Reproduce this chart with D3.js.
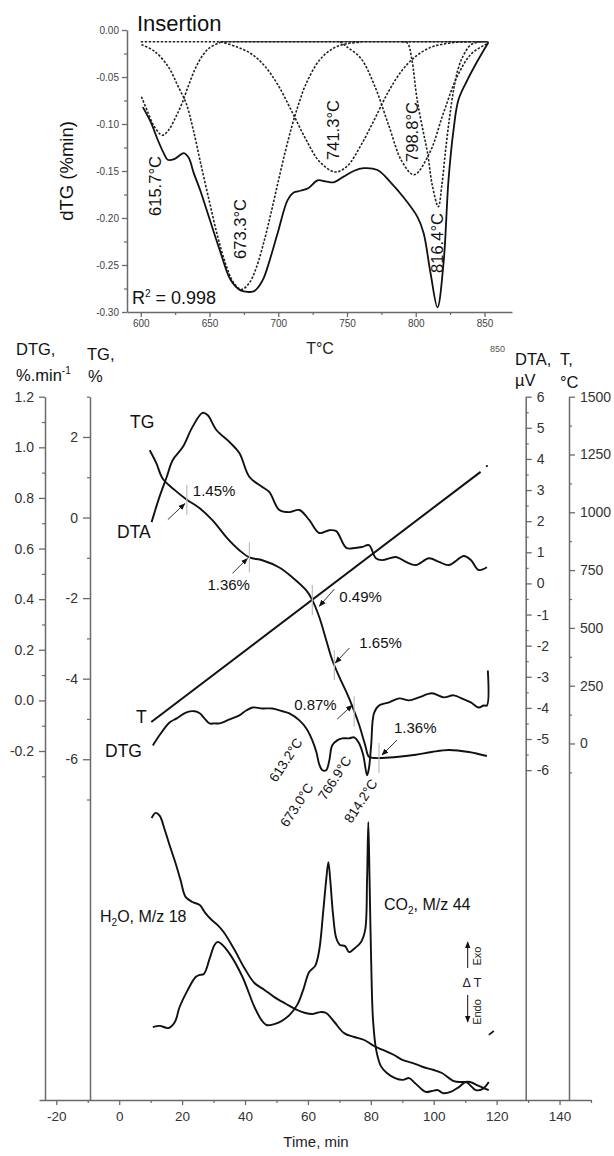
<!DOCTYPE html>
<html>
<head>
<meta charset="utf-8">
<script src="https://cdn.jsdelivr.net/npm/d3@7"></script>
<style>
  body { margin: 0; background: #fff; }
  svg { display: block; font-family: "Liberation Sans", Arial, sans-serif; }
</style>
</head>
<body>
<svg id="chart" width="614" height="1156"></svg>
<script>
/* ================== DONNEES : ENCART dTG ================== */

const insetTempTicks = [600, 650, 700, 750, 800, 850];
const insetTempMinor = [625, 675, 725, 775, 825];
const insetDtgTicks = [0, -0.05, -0.1, -0.15, -0.2, -0.25, -0.3];
const insetDtgMinor = [-0.025, -0.075, -0.125, -0.175, -0.225, -0.275];

// courbe mesurée (T °C, dTG %/min)
const insetMeasured = [
  [601.5, -0.082], [607.3, -0.098], [612.4, -0.117], [616.7, -0.131], [619.6, -0.138],
  [624.7, -0.137], [631.3, -0.131], [634.9, -0.136], [638.5, -0.152], [643.6, -0.172],
  [648.7, -0.195], [653.8, -0.218], [658.1, -0.237], [665.4, -0.266], [672.7, -0.277],
  [682.1, -0.278], [685.8, -0.273], [689.4, -0.264], [692.3, -0.252], [699.6, -0.216],
  [706.8, -0.181], [711.2, -0.173], [716.3, -0.171], [722.1, -0.168], [728.6, -0.160],
  [734.4, -0.161], [740.3, -0.162], [747.5, -0.156], [754.8, -0.150], [762.1, -0.147],
  [772.2, -0.149], [781.7, -0.162], [791.1, -0.178], [801.3, -0.199], [805.7, -0.216],
  [810.8, -0.259], [815.8, -0.295], [820.2, -0.248], [823.8, -0.160], [827.5, -0.106],
  [831.1, -0.074], [837.6, -0.053], [844.9, -0.033], [852.9, -0.013]
];

// pics déconvolués (pointillés)
const peak615 = [
  [600.5, -0.071], [605, -0.087], [610, -0.103], [615.7, -0.112], [620, -0.107],
  [625, -0.094], [630, -0.078], [635, -0.058], [640, -0.040], [645, -0.027],
  [650, -0.019], [658, -0.013]
];
const peak673 = [
  [600.5, -0.0156], [610, -0.0226], [620, -0.039], [627, -0.0595], [633, -0.078],
  [638, -0.105], [643.6, -0.142], [650, -0.183], [656, -0.220], [662, -0.250],
  [667.6, -0.269], [673.3, -0.276], [679, -0.269], [684, -0.253], [690, -0.223],
  [695, -0.193], [700, -0.161], [705, -0.130], [710, -0.102], [715, -0.078],
  [720, -0.058], [730, -0.032], [740, -0.0195], [750, -0.0145], [760, -0.013]
];
const peak741 = [
  [658, -0.0125], [670, -0.018], [680, -0.025], [690, -0.038], [700, -0.059],
  [710, -0.087], [720, -0.116], [730, -0.140], [741.3, -0.151], [750, -0.145],
  [760, -0.123], [770, -0.095], [780, -0.066], [790, -0.043], [800, -0.028],
  [810, -0.019], [820, -0.015], [830, -0.013], [840, -0.0125]
];
const peak798 = [
  [745, -0.0125], [750, -0.018], [760, -0.030], [770, -0.059], [780, -0.100],
  [790, -0.140], [798.8, -0.154], [810, -0.131], [820, -0.089], [830, -0.050],
  [840, -0.026], [850, -0.016], [853, -0.014]
];
const peak816 = [
  [790, -0.0125], [794, -0.014], [797, -0.030], [801, -0.074], [805, -0.105],
  [808.6, -0.131], [812, -0.165], [816.4, -0.188], [819, -0.165], [821.7, -0.128],
  [824.5, -0.094], [827.5, -0.064], [830.5, -0.043], [834, -0.029], [839.8, -0.016],
  [845, -0.013], [852, -0.0125]
];
const insetBaseline = [[600, -0.0125], [853, -0.0125]];
const insetBaselineSolid = [[658, -0.0125], [853, -0.0125]];
const insetPeakLabels = ["615.7°C", "673.3°C", "741.3°C", "798.8°C", "816.4°C"];

/* ================== DONNEES : GRAPHE PRINCIPAL ================== */

const timeTicks = [-20, 0, 20, 40, 60, 80, 100, 120, 140];
const timeMinor = [-10, 10, 30, 50, 70, 90, 110, 130, 150];
const dtgTicks = [-0.2, 0, 0.2, 0.4, 0.6, 0.8, 1.0, 1.2];
const dtgMinor = [-0.3, -0.1, 0.1, 0.3, 0.5, 0.7, 0.9, 1.1];
const tgTicks = [-6, -4, -2, 0, 2];
const tgMinor = [-7, -5, -3, -1, 1, 3];
const dtaTicks = [-6, -5, -4, -3, -2, -1, 0, 1, 2, 3, 4, 5, 6];
const dtaMinor = [-5.5, -4.5, -3.5, -2.5, -1.5, -0.5, 0.5, 1.5, 2.5, 3.5, 4.5, 5.5];
const tempTicks = [0, 250, 500, 750, 1000, 1250, 1500];
const tempMinor = [-125, 125, 375, 625, 875, 1125, 1375];

// (min, %)
const tgCurve = [
  [9.7, 1.67], [11.8, 1.35], [13.8, 0.97], [17.4, 0.70], [21.4, 0.45], [25.6, 0.23],
  [29.7, -0.07], [34.1, -0.49], [38.2, -0.81], [41.4, -0.99], [45.5, -1.06],
  [50.9, -1.24], [55.0, -1.48], [59.5, -1.81], [61.4, -2.05], [63.6, -2.47],
  [65.8, -3.04], [67.7, -3.53], [70.0, -3.96], [72.2, -4.33], [74.1, -4.68],
  [76.3, -5.15], [78.2, -5.65], [79.4, -5.94], [81.0, -5.97], [83.6, -5.97],
  [88.9, -5.94], [94.3, -5.89], [99.4, -5.82], [104.8, -5.77], [111.2, -5.82],
  [116.9, -5.92]
];
// (min, µV)
const dtaCurve = [
  [10.3, 1.97], [12.8, 2.78], [15.1, 3.42], [17.0, 3.96], [20.2, 4.38], [23.3, 5.03],
  [26.5, 5.48], [28.1, 5.41], [30.9, 4.93], [35.1, 4.54], [38.2, 4.19], [41.4, 3.42],
  [45.5, 3.10], [47.7, 2.94], [50.9, 2.36], [54.1, 2.29], [57.3, 2.36], [60.4, 2.04],
  [63.6, 1.62], [66.8, 1.71], [69.0, 1.68], [72.2, 1.14], [75.0, 1.14], [77.2, 1.17],
  [79.4, 1.23], [81.6, 0.81], [83.6, 0.75], [88.0, 0.85], [91.2, 0.69], [94.3, 0.59],
  [98.5, 0.81], [101.7, 0.69], [104.8, 0.59], [109.6, 0.88], [111.8, 0.75],
  [114.3, 0.43], [116.9, 0.52]
];
// (min, %/min)
const dtgCurve = [
  [10.7, -0.178], [12.8, -0.138], [16.0, -0.087], [18.3, -0.071], [21.4, -0.047],
  [24.0, -0.043], [25.6, -0.051], [27.1, -0.071], [28.7, -0.091], [30.3, -0.091],
  [31.9, -0.091], [35.1, -0.075], [38.2, -0.059], [40.5, -0.039], [42.4, -0.028],
  [45.5, -0.032], [48.7, -0.032], [51.9, -0.043], [54.1, -0.051], [57.3, -0.079],
  [59.5, -0.111], [61.4, -0.158], [62.7, -0.205], [63.6, -0.253], [64.6, -0.276],
  [65.8, -0.276], [66.8, -0.237], [67.7, -0.178], [69.3, -0.158], [70.9, -0.150],
  [73.1, -0.150], [74.7, -0.146], [76.3, -0.170], [77.6, -0.217], [78.8, -0.296],
  [79.4, -0.268], [80.1, -0.178], [81.0, -0.051], [82.6, -0.020], [85.8, -0.008],
  [89.0, 0.008], [92.2, 0.0], [95.3, 0.012], [99.4, 0.028], [103.2, 0.012],
  [106.3, 0.020], [109.6, 0.004], [111.8, -0.008], [114.3, -0.028], [115.9, -0.020],
  [116.9, -0.020], [117.2, 0.118]
];
// (min, °C)
const tempCurve = [[10.2, 93], [114.9, 1175]];
const tempDot = [116.9, 1200];

// spectrométrie de masse (unités arbitraires)
const msCurveA = [
  [10.3, 94], [11.6, 95.7], [12.9, 94.7], [14.5, 90], [16.0, 85], [17.9, 79],
  [19.5, 73.3], [21.1, 67.7], [23.3, 66], [25.6, 65], [27.4, 62.3], [29.4, 60],
  [31.3, 58.3], [33.2, 56], [36.7, 50], [39.8, 44], [43.0, 39], [46.2, 36.7],
  [49.3, 34.3], [53.1, 32], [56.6, 30], [59.2, 29], [61.7, 28.7], [63.9, 29.3],
  [65.8, 29], [68.4, 26], [71.5, 22.3], [74.7, 21], [77.9, 20], [81.0, 18],
  [83.8, 16.7], [87.4, 15], [90.2, 13.3], [93.4, 12.3], [96.6, 11], [100.0, 10],
  [102.6, 9], [106.4, 6.3], [108.9, 6], [111.5, 6], [114.3, 4.7], [117.5, 3.3]
];
const msCurveB = [
  [10.7, 24.3], [12.9, 24.7], [15.7, 24], [17.7, 26], [19.2, 31], [21.8, 36.7],
  [24.3, 41], [25.6, 41.7], [26.9, 42], [28.8, 47.3], [30.3, 51.7], [31.3, 52.7],
  [32.5, 52], [35.4, 48.3], [39.2, 41], [43.0, 31], [45.2, 26.7], [46.8, 25],
  [49.3, 25.3], [51.6, 26.3], [54.1, 28.3], [56.6, 31.7], [58.5, 36.7], [60.4, 42.7],
  [62.3, 44.7], [63.6, 50], [64.9, 63.3], [65.8, 73.3], [66.5, 79.3], [67.1, 73.3],
  [68.0, 61.7], [69.0, 54], [70.2, 51.7], [71.8, 51.3], [73.1, 49.3], [75.0, 50.7],
  [76.9, 52.7], [78.2, 56.7], [78.8, 73.3], [79.2, 92.7], [79.6, 73.3], [80.1, 46.7],
  [80.7, 26.7], [81.7, 16.7], [83.2, 11.3], [85.1, 9], [87.7, 7.3], [90.2, 6.7],
  [92.2, 7.3], [94.0, 5.7], [97.5, 2.7], [99.4, 3], [101.3, 3.3], [102.9, 2.3],
  [105.4, 2.7], [108.0, 4.3], [110.2, 6], [111.8, 4.7], [113.4, 3.3], [115.6, 3.7],
  [117.5, 6]
];
const msTail = [[117.5, 21.7], [119.1, 23]];

const tgStepTimes = [21.5, 41.4, 61.4, 68.4, 74.7, 82.6];
const tgStepLabels = ["1.45%", "1.36%", "0.49%", "1.65%", "0.87%", "1.36%"];
const dtgPeakLabels = ["613.2°C", "673.0°C", "766.9°C", "814.2°C"];

/* ================== MISE EN PLACE ================== */

const svg = d3.select("#chart");
const AXIS = "#6a6a6a";
const INK = "#111";

function styleAxis(g, size, color) {
  g.select(".domain").attr("stroke", AXIS).attr("stroke-width", 1.5);
  g.selectAll(".tick line").attr("stroke", AXIS).attr("stroke-width", 1.3);
  g.selectAll(".tick text")
    .attr("fill", color || "#333")
    .style("font-size", size + "px")
    .style("font-family", '"Liberation Sans", Arial, sans-serif');
}
function minorAxis(g) {
  g.select(".domain").remove();
  g.selectAll(".tick line").attr("stroke", AXIS).attr("stroke-width", 1.2);
}

const smooth = d3.curveCatmullRom.alpha(0.5);

/* ================== ENCART ================== */

const xIn = d3.scaleLinear().domain([590, 870]).range([127, 512]);
const yIn = d3.scaleLinear().domain([0, -0.3]).range([30, 312]);

svg.append("g").attr("transform", "translate(0,312)")
  .call(d3.axisBottom(xIn).tickValues(insetTempMinor).tickSize(3).tickFormat(""))
  .call(minorAxis);
svg.append("g").attr("transform", "translate(0,312)")
  .call(d3.axisBottom(xIn).tickValues(insetTempTicks).tickSize(5).tickSizeOuter(0)
    .tickPadding(3).tickFormat((d) => d))
  .call((g) => styleAxis(g, 10, "#444"));

svg.append("g").attr("transform", "translate(127,0)")
  .call(d3.axisLeft(yIn).tickValues(insetDtgMinor).tickSize(3).tickFormat(""))
  .call(minorAxis);
svg.append("g").attr("transform", "translate(127,0)")
  .call(d3.axisLeft(yIn).tickValues(insetDtgTicks).tickSize(5).tickSizeOuter(0)
    .tickPadding(3).tickFormat((d) => d.toFixed(2)))
  .call((g) => styleAxis(g, 10, "#444"));

const lineIn = d3.line().x((d) => xIn(d[0])).y((d) => yIn(d[1])).curve(smooth);

[insetBaseline, peak615, peak673, peak741, peak798, peak816].forEach((p) => {
  svg.append("path").datum(p).attr("d", lineIn)
    .attr("fill", "none").attr("stroke", "#222")
    .attr("stroke-width", 1.6).attr("stroke-dasharray", "2.4,1.6");
});
svg.append("path").datum(insetBaselineSolid).attr("d", lineIn)
  .attr("fill", "none").attr("stroke", "#222").attr("stroke-width", 1.2);
svg.append("path").datum(insetMeasured).attr("d", lineIn)
  .attr("fill", "none").attr("stroke", INK).attr("stroke-width", 1.8);

// étiquettes des pics (verticales)
const insetLabelPos = [[155, 186], [240, 229], [333, 130], [412, 132], [437, 243]];
insetPeakLabels.forEach((t, i) => {
  svg.append("text")
    .attr("transform", `translate(${insetLabelPos[i][0]},${insetLabelPos[i][1]}) rotate(-90)`)
    .attr("text-anchor", "middle").attr("dy", "0.36em")
    .style("font-size", "16.5px").attr("fill", INK).text(t);
});

svg.append("text").attr("x", 137).attr("y", 31)
  .style("font-size", "22px").attr("fill", INK).text("Insertion");
svg.append("text")
  .attr("transform", "translate(73,171) rotate(-90)")
  .attr("text-anchor", "middle").style("font-size", "18.5px").attr("fill", INK)
  .text("dTG (%min)");
svg.append("text").attr("x", 320).attr("y", 354).attr("text-anchor", "middle")
  .style("font-size", "16px").attr("fill", "#222").text("T°C");
const r2 = svg.append("text").attr("x", 132).attr("y", 304)
  .style("font-size", "18px").attr("fill", INK);
r2.append("tspan").text("R");
r2.append("tspan").attr("dy", -7).style("font-size", "10px").text("2");
r2.append("tspan").attr("dy", 7).text(" = 0.998");
svg.append("text").attr("x", 490).attr("y", 352)
  .style("font-size", "9px").attr("fill", "#555").text("850");

/* ================== GRAPHE PRINCIPAL ================== */

const xT = d3.scaleLinear().domain([-25.5, 150]).range([39, 591]);
const yDTG = d3.scaleLinear().domain([1.2, -1.579]).range([396.7, 1100]);
const yTG = d3.scaleLinear().domain([3, -14.46]).range([396.7, 1100]);
const yDTA = d3.scaleLinear().domain([6, -16.6]).range([396.7, 1100]);
const yTemp = d3.scaleLinear().domain([1500, -1542]).range([396.7, 1100]);
const yMS = d3.scaleLinear().domain([0, 100]).range([1100, 800]);

// axes verticaux
function vAxis(x, axisFn, scale, major, minor, majorSize, fmt) {
  svg.append("g").attr("transform", `translate(${x},0)`)
    .call(axisFn(scale).tickValues(minor).tickSize(3).tickFormat(""))
    .call(minorAxis);
  svg.append("g").attr("transform", `translate(${x},0)`)
    .call(axisFn(scale).tickValues(major).tickSize(majorSize).tickSizeOuter(0)
      .tickPadding(5).tickFormat(fmt))
    .call((g) => styleAxis(g, 14));
}
vAxis(45, d3.axisLeft, yDTG, dtgTicks, dtgMinor, 6, (d) => d.toFixed(1));
vAxis(90, d3.axisLeft, yTG, tgTicks, tgMinor, 7, (d) => String(d));
vAxis(525.7, d3.axisRight, yDTA, dtaTicks, dtaMinor, 6, (d) => String(d));
vAxis(569, d3.axisRight, yTemp, tempTicks, tempMinor, 6, (d) => String(d));

// axe du temps
svg.append("g").attr("transform", "translate(0,1100)")
  .call(d3.axisBottom(xT).tickValues(timeMinor).tickSize(3).tickFormat(""))
  .call(minorAxis);
svg.append("g").attr("transform", "translate(0,1100)")
  .call(d3.axisBottom(xT).tickValues(timeTicks).tickSize(5).tickSizeOuter(0)
    .tickPadding(6).tickFormat((d) => String(d)))
  .call((g) => styleAxis(g, 13.5));
svg.append("text").attr("x", 316).attr("y", 1147).attr("text-anchor", "middle")
  .style("font-size", "15px").attr("fill", "#222").text("Time, min");

// titres des axes
function axisTitle(x, y, txt, size) {
  return svg.append("text").attr("x", x).attr("y", y)
    .style("font-size", (size || 16.5) + "px").attr("fill", INK).text(txt);
}
axisTitle(16, 355, "DTG,");
const dtgUnit = axisTitle(16, 381, "%.min");
dtgUnit.append("tspan").attr("dy", -7).style("font-size", "10px").text("-1");
axisTitle(87, 360, "TG,");
axisTitle(88, 382, "%");
axisTitle(515, 365, "DTA,");
axisTitle(515, 386, "µV");
axisTitle(560, 365, "T,");
axisTitle(560, 388, "°C");

// courbes
function curve(data, yScale, width) {
  const gen = d3.line().x((d) => xT(d[0])).y((d) => yScale(d[1])).curve(smooth);
  svg.append("path").datum(data).attr("d", gen)
    .attr("fill", "none").attr("stroke", INK)
    .attr("stroke-width", width || 1.9).attr("stroke-linejoin", "round");
}
curve(tgCurve, yTG);
curve(dtaCurve, yDTA);
curve(dtgCurve, yDTG);
curve(tempCurve, yTemp, 2);
curve(msCurveA, yMS);
curve(msCurveB, yMS);
curve(msTail, yMS, 1.6);
svg.append("circle").attr("cx", xT(tempDot[0])).attr("cy", yTemp(tempDot[1]))
  .attr("r", 1.1).attr("fill", INK);

// étiquettes des courbes
axisTitle(130, 428, "TG", 17.5);
axisTitle(117, 538, "DTA", 17.5);
axisTitle(136, 723, "T", 17.5);
axisTitle(105, 757, "DTG", 17.5);
const h2o = axisTitle(100, 922, "H", 16);
h2o.append("tspan").attr("dy", 4).style("font-size", "10px").text("2");
h2o.append("tspan").attr("dy", -4).text("O, M/z 18");
const co2 = axisTitle(384, 910, "CO", 16);
co2.append("tspan").attr("dy", 4).style("font-size", "10px").text("2");
co2.append("tspan").attr("dy", -4).text(", M/z 44");

// marches de perte de masse sur TG
svg.append("defs").append("marker")
  .attr("id", "arr").attr("viewBox", "0 0 10 10")
  .attr("refX", 9).attr("refY", 5)
  .attr("markerWidth", 7).attr("markerHeight", 7)
  .attr("markerUnits", "userSpaceOnUse").attr("orient", "auto")
  .append("path").attr("d", "M0,1 L10,5 L0,9 Z").attr("fill", INK);

const tgAt = (t) => {
  const i = d3.bisector((d) => d[0]).left(tgCurve, t);
  const a = tgCurve[i - 1], b = tgCurve[i];
  return a[1] + ((t - a[0]) / (b[0] - a[0])) * (b[1] - a[1]);
};
// décalages (px) : flèche de / à, étiquette
const stepLayout = [
  { from: [-19, 20], to: [-2, 4], lab: [6, -4] },
  { from: [-17, 16], to: [-2, 1], lab: [-42, 33] },
  { from: [22, -11], to: [7, 6], lab: [27, 2] },
  { from: [15, -17], to: [1, -2], lab: [25, -17] },
  { from: [-17, 8], to: [-2, -6], lab: [-60, -1] },
  { from: [18, -18], to: [3, -3], lab: [15, -25] }
];
tgStepTimes.forEach((t, i) => {
  const x = xT(t), y = yTG(tgAt(t)), L = stepLayout[i];
  svg.append("line").attr("x1", x).attr("x2", x).attr("y1", y - 15).attr("y2", y + 15)
    .attr("stroke", "#bdbdbd").attr("stroke-width", 1.2);
  svg.append("line")
    .attr("x1", x + L.from[0]).attr("y1", y + L.from[1])
    .attr("x2", x + L.to[0]).attr("y2", y + L.to[1])
    .attr("stroke", "#333").attr("stroke-width", 1).attr("marker-end", "url(#arr)");
  svg.append("text").attr("x", x + L.lab[0]).attr("y", y + L.lab[1])
    .style("font-size", "15px").attr("fill", INK).text(tgStepLabels[i]);
});

// températures des pics DTG (obliques)
const peakLabelPos = [[303, 742], [314, 787], [352, 760], [378, 783]];
dtgPeakLabels.forEach((t, i) => {
  svg.append("text")
    .attr("transform", `translate(${peakLabelPos[i][0]},${peakLabelPos[i][1]}) rotate(-57)`)
    .attr("text-anchor", "end")
    .style("font-size", "13.5px").attr("fill", INK).text(t);
});

// indicateur Exo / Endo
svg.append("line").attr("x1", 467.7).attr("x2", 467.7).attr("y1", 968).attr("y2", 942)
  .attr("stroke", INK).attr("stroke-width", 1).attr("marker-end", "url(#arr)");
svg.append("line").attr("x1", 467.7).attr("x2", 467.7).attr("y1", 995).attr("y2", 1022)
  .attr("stroke", INK).attr("stroke-width", 1).attr("marker-end", "url(#arr)");
svg.append("text").attr("transform", "translate(477,956) rotate(-90)")
  .attr("text-anchor", "middle").attr("dy", "0.35em")
  .style("font-size", "11px").attr("fill", "#222").text("Exo");
svg.append("text").attr("transform", "translate(477,1012) rotate(-90)")
  .attr("text-anchor", "middle").attr("dy", "0.35em")
  .style("font-size", "11px").attr("fill", "#222").text("Endo");
svg.append("text").attr("x", 472).attr("y", 987).attr("text-anchor", "middle")
  .style("font-size", "12.5px").attr("fill", "#222").text("Δ  T");
</script>
</body>
</html>
